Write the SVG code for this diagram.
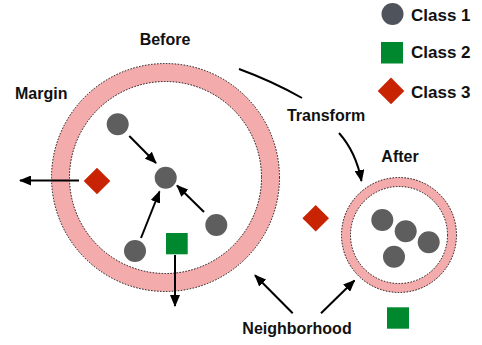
<svg xmlns="http://www.w3.org/2000/svg" width="482" height="345" viewBox="0 0 482 345">
<defs>
<marker id="ah" markerWidth="12" markerHeight="10" refX="11" refY="5" orient="auto" markerUnits="userSpaceOnUse">
<path d="M0,0 L12,5 L0,10 z" fill="#000"/>
</marker>
<style>
.lbl{font-family:"Liberation Sans",Arial,sans-serif;font-weight:bold;font-size:16px;fill:#111}
.leg{font-family:"Liberation Sans",Arial,sans-serif;font-weight:bold;font-size:17px;fill:#111}
.ring{fill:none;stroke:#F4ABAB}
.dash{fill:none;stroke:#111;stroke-width:1;stroke-dasharray:1.5 1.5}
.dot{fill:#5E5E5E}
.c2{fill:#00882E}
.c3{fill:#C82404}
.conn path,.conn line{stroke:#000;stroke-width:2;fill:none}
</style>
</defs>

<g id="legend">
<circle cx="392.5" cy="14" r="11" fill="#4F535B"/>
<text class="leg" x="411" y="20.5">Class 1</text>
<rect class="c2" x="381" y="42" width="22" height="21.5"/>
<text class="leg" x="411" y="58.3">Class 2</text>
<polygon class="c3" points="391,77.5 404.3,91 391,104.3 377.7,91"/>
<text class="leg" x="411" y="98.3">Class 3</text>
</g>

<g id="before">
<circle class="ring" cx="165.5" cy="177.5" r="105" stroke-width="18"/>
<circle class="dash" cx="165.5" cy="177.5" r="114"/>
<circle class="dash" cx="165.5" cy="177.5" r="96"/>
<text class="lbl" x="165" y="45" text-anchor="middle">Before</text>
</g>
<g id="margin"><text class="lbl" x="15" y="98.5">Margin</text></g>

<g id="after">
<circle class="ring" cx="399" cy="235" r="53" stroke-width="9"/>
<circle class="dash" cx="399" cy="235" r="57.5"/>
<circle class="dash" cx="399" cy="235" r="48.5"/>
<text class="lbl" x="400" y="161.5" text-anchor="middle">After</text>
</g>

<g id="before-points">
<circle class="dot" cx="117.7" cy="124.3" r="11"/>
<circle class="dot" cx="165.7" cy="177.7" r="11"/>
<circle class="dot" cx="216.3" cy="225" r="11"/>
<circle class="dot" cx="135" cy="251" r="11"/>
<rect class="c2" x="166" y="233" width="21.7" height="21.3"/>
<polygon class="c3" points="97,167.7 110.3,181 97,194.3 83.7,181"/>
</g>

<g id="after-points">
<circle class="dot" cx="382.3" cy="220" r="11"/>
<circle class="dot" cx="405.7" cy="231.3" r="11"/>
<circle class="dot" cx="428.7" cy="242.3" r="11"/>
<circle class="dot" cx="394" cy="256.7" r="11"/>
<polygon class="c3" points="315.7,205 329,218.3 315.7,231.6 302.4,218.3"/>
<rect class="c2" x="387" y="307.3" width="22" height="21.4"/>
</g>

<g id="transform"><text class="lbl" x="326" y="120.5" text-anchor="middle">Transform</text></g>
<g id="neighborhood"><text class="lbl" x="297" y="334.3" text-anchor="middle">Neighborhood</text></g>

<g class="conn" id="connectors">
<line x1="129.3" y1="136" x2="156" y2="163" marker-end="url(#ah)"/>
<line x1="141" y1="238" x2="159.5" y2="191.5" marker-end="url(#ah)"/>
<line x1="204" y1="212" x2="177" y2="185.5" marker-end="url(#ah)"/>
<line x1="79" y1="180.5" x2="20" y2="180.5" marker-end="url(#ah)"/>
<line x1="175" y1="255" x2="175" y2="306" marker-end="url(#ah)"/>
<path d="M239,69 Q272,81 302,98"/>
<path d="M339,133 Q356,152 361.5,181" marker-end="url(#ah)"/>
<line x1="292.7" y1="313.3" x2="255" y2="275.3" marker-end="url(#ah)"/>
<line x1="321" y1="313.3" x2="354.5" y2="280.5" marker-end="url(#ah)"/>
</g>
</svg>
